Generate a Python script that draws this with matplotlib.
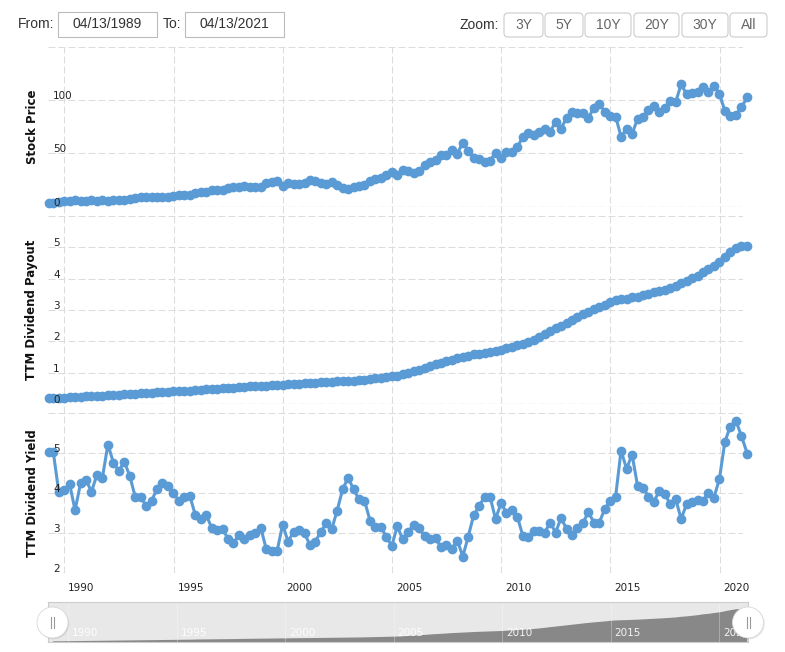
import numpy as np
import pandas as pd
import matplotlib
matplotlib.use("Agg")
import matplotlib.pyplot as plt
from matplotlib.patches import FancyBboxPatch, Circle
from matplotlib.transforms import Affine2D, offset_copy
from matplotlib.lines import Line2D

# quarterly observations, first and last on 04/13
dates = (pd.DatetimeIndex(["1989-04-13"])
         .append(pd.date_range("1989-06-30", "2020-12-31", freq="QE"))
         .append(pd.DatetimeIndex(["2021-04-13"])))
years = np.asarray(dates.year + (dates.dayofyear - 1) / 365.25)

stock_price = [
    3.6, 3.7, 4.7, 4.9, 5.0, 6.1, 5.4, 5.5, 6.2, 5.8,
    6.2, 5.4, 6.1, 6.6, 6.5, 7.2, 8.4, 8.7, 9.5, 9.4,
    9.0, 8.9, 9.3, 10.0, 10.7, 10.8, 10.9, 13.0, 13.7, 13.6,
    15.3, 15.9, 16.1, 17.8, 18.9, 18.2, 19.2, 18.9, 18.9, 18.5,
    22.6, 23.4, 23.8, 19.3, 22.6, 21.1, 21.1, 22.0, 24.7, 24.4,
    22.7, 21.5, 22.9, 20.2, 17.8, 16.9, 18.3, 19.7, 20.4, 24.1,
    25.9, 26.5, 29.7, 32.7,
    29.8, 34.5, 33.6, 31.4, 33.6, 38.9, 42.0, 43.9, 48.3, 48.6,
    53.3, 49.8, 60.2, 52.6, 45.5, 44.5, 42.0, 43.2, 50.8, 46.1,
    51.7, 51.7, 55.8, 65.8, 69.0, 67.1, 70.2, 73.3, 70.2, 79.9,
    73.3, 83.6, 89.3, 88.3, 88.3, 83.1, 93.0, 96.2, 89.3, 85.5,
    84.6, 65.8, 73.0, 68.3, 82.4, 84.6, 90.9, 94.9, 89.3, 92.5,
    99.6, 98.4, 115.0, 105.6, 106.6, 108.1, 112.2, 107.8, 113.7, 105.9,
    90.0, 85.5, 86.0, 93.4, 102.8,
]

ttm_payout = [
    0.18, 0.185, 0.19, 0.20, 0.21, 0.22, 0.23, 0.24, 0.25, 0.26,
    0.27, 0.28, 0.29, 0.30, 0.31, 0.32, 0.33, 0.34, 0.35, 0.36,
    0.37, 0.38, 0.39, 0.40, 0.41, 0.42, 0.43, 0.45, 0.46, 0.47,
    0.48, 0.49, 0.50, 0.51, 0.52, 0.54, 0.55, 0.56, 0.57, 0.58,
    0.59, 0.60, 0.61, 0.62, 0.63, 0.64, 0.65, 0.66, 0.67, 0.68,
    0.69, 0.70, 0.71, 0.72, 0.73, 0.74, 0.75, 0.76, 0.78, 0.80,
    0.82, 0.84, 0.86, 0.88,
    0.90, 0.95, 1.00, 1.05, 1.10, 1.16, 1.22, 1.27, 1.32, 1.37,
    1.42, 1.46, 1.50, 1.54, 1.58, 1.61, 1.64, 1.67, 1.70, 1.73,
    1.78, 1.83, 1.88, 1.93, 1.98, 2.05, 2.13, 2.22, 2.32, 2.41,
    2.50, 2.59, 2.68, 2.77, 2.87, 2.95, 3.03, 3.10, 3.17, 3.26,
    3.31, 3.34, 3.36, 3.40, 3.43, 3.47, 3.52, 3.56, 3.60, 3.65,
    3.70, 3.76, 3.86, 3.92, 4.01, 4.10, 4.22, 4.30, 4.42, 4.52,
    4.68, 4.84, 4.98, 5.03, 5.05,
]

ttm_yield = [
    5.04, 5.04, 4.04, 4.08, 4.23, 3.58, 4.25, 4.33, 4.04, 4.46,
    4.39, 5.22, 4.77, 4.56, 4.79, 4.43, 3.92, 3.92, 3.68, 3.82,
    4.10, 4.27, 4.18, 4.00, 3.82, 3.90, 3.94, 3.46, 3.35, 3.46,
    3.14, 3.08, 3.11, 2.87, 2.75, 2.96, 2.87, 2.96, 3.02, 3.14,
    2.61, 2.56, 2.56, 3.22, 2.79, 3.04, 3.08, 3.00, 2.71, 2.79,
    3.04, 3.25, 3.10, 3.57, 4.10, 4.39, 4.10, 3.85, 3.82, 3.32,
    3.17, 3.17, 2.90, 2.69,
    3.18, 2.85, 3.03, 3.22, 3.14, 2.93, 2.87, 2.89, 2.65, 2.72,
    2.61, 2.82, 2.42, 2.92, 3.46, 3.68, 3.92, 3.92, 3.36, 3.75,
    3.52, 3.58, 3.42, 2.93, 2.91, 3.06, 3.06, 3.02, 3.27, 3.02,
    3.39, 3.10, 2.97, 3.14, 3.25, 3.54, 3.27, 3.27, 3.60, 3.82,
    3.92, 5.07, 4.61, 4.97, 4.19, 4.14, 3.92, 3.79, 4.07, 3.98,
    3.73, 3.85, 3.36, 3.73, 3.79, 3.83, 3.81, 4.02, 3.89, 4.36,
    5.29, 5.67, 5.82, 5.44, 4.98,
]

year_ticks = [1990, 1995, 2000, 2005, 2010, 2015, 2020]
zoom_buttons = ["3Y", "5Y", "10Y", "20Y", "30Y", "All"]
date_from, date_to = "04/13/1989", "04/13/2021"

BLUE = "#5B9BD5"
GRID = "#dcdcdc"
W, H = 785, 652

plt.rcParams["lines.scale_dashes"] = False
fig = plt.figure(figsize=(W / 100, H / 100), dpi=100)

# transform in screen pixels with origin at top-left
px = Affine2D().scale(1 / W, -1 / H).translate(0, 1) + fig.transFigure


def rect(x0, y0, x1, y1):
    return [x0 / W, 1 - y1 / H, (x1 - x0) / W, (y1 - y0) / H]


xlim = (1990 - 16.3 / 21.84, 2020 + 23.5 / 21.84)
dash = (0, (5, 2.2))

# vertical grid behind all three panes
bg = fig.add_axes(rect(48, 46.9, 743, 573.3))
bg.set_xlim(xlim)
bg.set_xticks(year_ticks)
bg.xaxis.grid(True, color=GRID, ls=dash, lw=0.75)
bg.tick_params(length=0, labelbottom=False, labelleft=False)
bg.set_yticks([])
for s in bg.spines.values():
    s.set_visible(False)
bg.patch.set_alpha(0)

panes = [
    (rect(48, 46.9, 743, 206.7), stock_price, (0, 150), [0, 50, 100, 150], "Stock Price", True),
    (rect(48, 216, 743, 404), ttm_payout, (0, 6), [0, 1, 2, 3, 4, 5, 6], "TTM Dividend Payout", True),
    (rect(48, 413.3, 743, 573.3), ttm_yield, (2, 6), [2, 3, 4, 5, 6], "TTM Dividend Yield", False),
]

for pos, vals, ylim, ticks, title, zero_line in panes:
    ax = fig.add_axes(pos)
    ax.patch.set_alpha(0)
    ax.set_xlim(xlim)
    ax.set_ylim(ylim)
    ax.set_yticks(ticks)
    ax.set_xticks([])
    ax.yaxis.grid(True, color=GRID, ls=dash, lw=0.75)
    ax.set_axisbelow(True)
    ax.tick_params(axis="y", length=0, labelleft=False)
    for s in ax.spines.values():
        s.set_visible(False)
    if zero_line:
        ax.axhline(ylim[0], color="#aaaaaa", ls=dash, lw=0.8, zorder=1)
    ax.plot(years, vals, color=BLUE, lw=2.2, marker="o", ms=6, mec=BLUE, mfc=BLUE,
            clip_on=False, zorder=3)
    # tick labels sit inside the pane, on top of the series
    tick_tr = offset_copy(ax.get_yaxis_transform(), fig=fig, x=5, y=1, units="dots")
    for t in ticks[:-1]:
        ax.text(0, t, str(t), transform=tick_tr, ha="left", va="baseline",
                fontsize=7.5, color="#222222", zorder=5, clip_on=False)
    mid = (pos[1] + pos[3] / 2)
    fig.text(32 / W, mid, title, rotation=90, ha="center", va="center",
             fontsize=8.5, fontweight="bold", color="#111111")
    last_ax = ax

lab_tr = offset_copy(last_ax.get_xaxis_transform(), fig=fig, x=4, y=-15, units="dots")
for yr in year_ticks:
    last_ax.text(yr, 0, str(yr), transform=lab_tr, ha="left", va="center",
                 fontsize=7.5, color="#222222")

# navigator
nav = fig.add_axes(rect(48, 602, 748, 642))
nav.set_facecolor("#e8e8e8")
nav.set_xlim(1990 - 20 / 21.7, 2020 + 29 / 21.7)
nav.set_ylim(0, 6)
nav.fill_between(years, ttm_payout, 0, color="#888888", lw=0)
nav_tr = offset_copy(nav.get_xaxis_transform(), fig=fig, x=4, y=0, units="dots")
for yr in year_ticks:
    nav.axvline(yr, color="white", lw=0.6, alpha=0.35)
    nav.text(yr, 0.22, str(yr), transform=nav_tr, ha="left", va="center",
             fontsize=7.5, color="white", alpha=0.9)
nav.set_xticks([])
nav.set_yticks([])
for s in nav.spines.values():
    s.set_color("#cccccc")
    s.set_linewidth(0.8)

for cx in (52.5, 748):
    fig.add_artist(Circle((cx + 1, 623.5), 15.8, transform=px, facecolor="#00000018", lw=0))
    fig.add_artist(Circle((cx, 622.5), 15.5, transform=px, facecolor="white",
                          edgecolor="#d9d9d9", lw=0.6))
    for dx in (-1.5, 1.5):
        fig.add_artist(Line2D([cx + dx, cx + dx], [617, 628], transform=px,
                              color="#999999", lw=0.8))

# range selector controls
ui_font = dict(family="Liberation Sans", fontsize=10)
fig.text(18 / W, 1 - 24.5 / H, "From:", ha="left", va="center", color="#333333", **ui_font)
fig.text(163 / W, 1 - 24.5 / H, "To:", ha="left", va="center", color="#333333", **ui_font)
for (x0, x1), label in (((58, 157), date_from), ((185, 284), date_to)):
    fig.add_artist(FancyBboxPatch((x0, 12), x1 - x0, 25, boxstyle="square,pad=0",
                                  transform=px, facecolor="white", edgecolor="#bbbbbb", lw=0.8))
    fig.text((x0 + x1) / 2 / W, 1 - 24.5 / H, label, ha="center", va="center",
             color="#333333", **ui_font)

fig.text(460 / W, 1 - 25 / H, "Zoom:", ha="left", va="center", color="#333333", **ui_font)
btn_edges = [(504, 543), (545, 583), (585, 631), (634, 679), (682, 728), (730, 767)]
for (x0, x1), label in zip(btn_edges, zoom_buttons):
    fig.add_artist(FancyBboxPatch((x0, 13), x1 - x0, 24,
                                  boxstyle="round,pad=0,rounding_size=4",
                                  transform=px, facecolor="white", edgecolor="#cccccc", lw=0.8))
    fig.text((x0 + x1) / 2 / W, 1 - 25 / H, label, ha="center", va="center",
             color="#666666", **ui_font)

fig.savefig("out.png", dpi=100)
